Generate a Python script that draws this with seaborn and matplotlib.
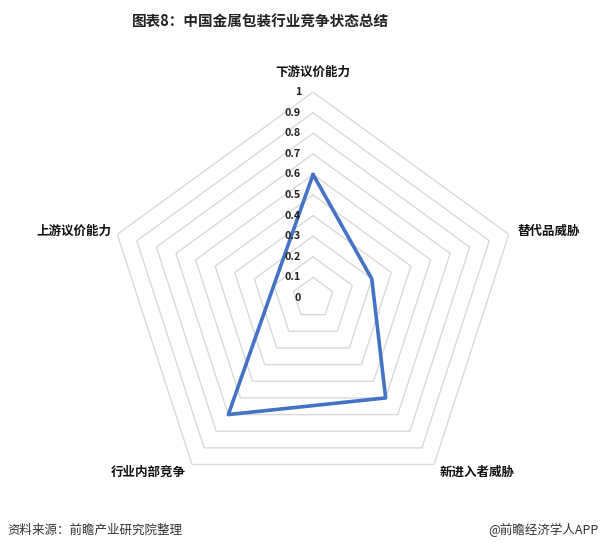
import numpy as np
import matplotlib
matplotlib.use("Agg")
import matplotlib.pyplot as plt
import seaborn as sns

categories = ["下游议价能力", "替代品威胁", "新进入者威胁", "行业内部竞争", "上游议价能力"]
values = [0.6, 0.3, 0.6, 0.7, 0.2]
ticks = [0, 0.1, 0.2, 0.3, 0.4, 0.5, 0.6, 0.7, 0.8, 0.9, 1]
tick_labels = ["0", "0.1", "0.2", "0.3", "0.4", "0.5", "0.6", "0.7", "0.8", "0.9", "1"]

sns.set_theme(style="white")
plt.rcParams["font.family"] = ["Noto Sans CJK SC", "DejaVu Sans"]

fig = plt.figure(figsize=(6.02, 5.51), dpi=100)
ax = fig.add_axes([0.178, 0.0852, 0.684, 0.748], projection="polar")
ax.set_theta_offset(np.pi / 2)
ax.set_theta_direction(-1)
ax.set_ylim(0, 1)
ax.grid(False)
ax.spines["polar"].set_visible(False)
ax.set_xticks([])
ax.set_yticks([])
ax.patch.set_alpha(0)

n = len(categories)
angles = np.linspace(0, 2 * np.pi, n, endpoint=False)
closed = np.append(angles, angles[0])

# pentagon rings
for t in ticks[1:]:
    ax.plot(closed, [t] * (n + 1), color="#d9d9d9", lw=1, zorder=1)

# radial labels beside the vertical axis, on top of the line
for t, lab in zip(ticks, tick_labels):
    ax.annotate(lab, xy=(0, t), xytext=(-12, 0), textcoords="offset pixels",
                ha="right", va="center", fontsize=7.8, fontweight="bold",
                color="#222222", zorder=5)

sns.lineplot(x=closed, y=values + values[:1], ax=ax, sort=False, estimator=None,
             color="#4472C4", lw=2.6, zorder=3)

offsets = [(0, 20, "center"), (9, 3, "left"), (6, -8, "left"),
           (-6, -8, "right"), (-6, 3, "right")]
for ang, cat, (dx, dy, ha) in zip(angles, categories, offsets):
    ax.annotate(cat, xy=(ang, 1), xytext=(dx, dy), textcoords="offset pixels",
                ha=ha, va="center", fontsize=9, fontweight="bold", color="#111111")

fig.text(0.432, 0.960, "图表8：中国金属包装行业竞争状态总结", ha="center", va="center",
         fontsize=10.5, fontweight="bold", color="#222222")
fig.text(0.012, 0.038, "资料来源：前瞻产业研究院整理", ha="left", va="center",
         fontsize=9, color="#333333")
fig.text(0.995, 0.038, "@前瞻经济学人APP", ha="right", va="center",
         fontsize=9, color="#333333")

fig.savefig("out.png", dpi=100)
